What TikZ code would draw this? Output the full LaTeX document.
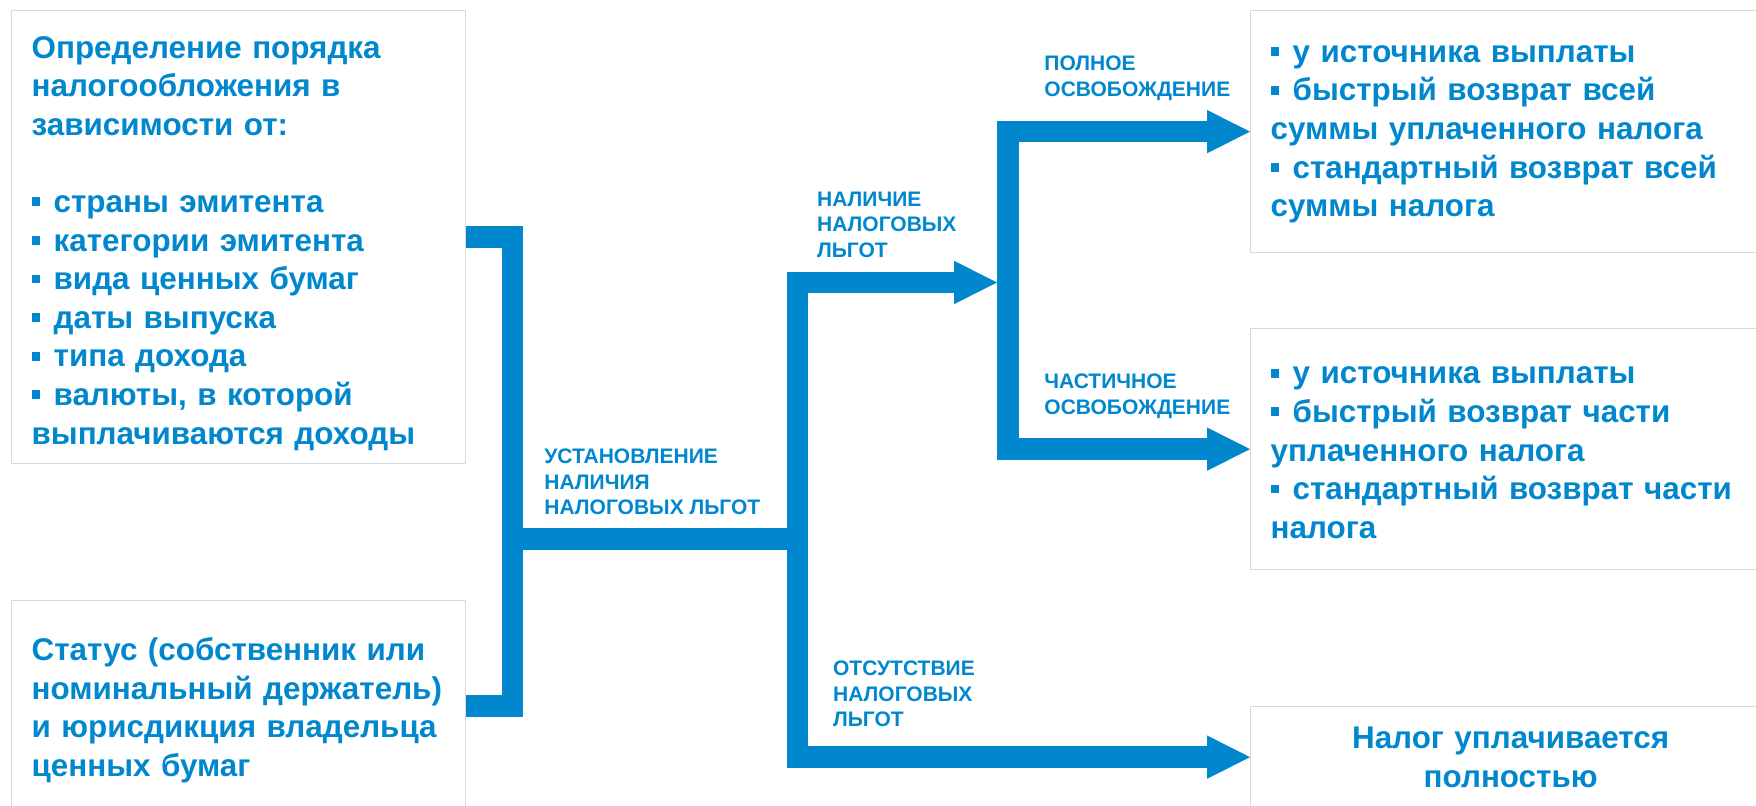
\documentclass[tikz,border=0pt]{standalone}
\usepackage{fontspec}
\setmainfont{Liberation Sans}
\usetikzlibrary{arrows.meta}

\definecolor{taxblue}{HTML}{0087CD}
\definecolor{boxgray}{HTML}{D9D9D9}
\newcommand{\sqb}{\rule[0.2em]{0.28em}{0.28em}\hspace{0.42em}}
\newcommand{\firststrut}[1][15.5pt]{\rule{0pt}{#1}}
\newcommand{\laststrut}{\rule[-4.5pt]{0pt}{4.5pt}}

\begin{document}
\begin{tikzpicture}[x=0.5pt, y=-0.5pt,
    infobox/.style={draw=boxgray, line width=0.65pt, anchor=north west,
      inner sep=0pt, text=taxblue, align=left,
      font=\bfseries\fontsize{15.7}{19.3}\selectfont},
    tag/.style={anchor=north west, inner sep=0pt, align=left, text=taxblue,
      font=\bfseries\fontsize{10.5}{12.75}\selectfont},
    trunk/.style={draw=taxblue, line width=10.85pt},
    flow/.style={-{Triangle[length=21.5pt, width=21.7pt, line width=0pt]}}]
  \fill[white] (0,0) rectangle (1756,806);
  \useasboundingbox (0,0) rectangle (1756,806);

  % left boxes
  \node[infobox, minimum width=227pt, minimum height=226.5pt, text width=207pt]
    (issuer) at (11,10) {\firststrut[18.5pt]Определение порядка\\налогообложения в\\зависимости от:\\[19.3pt]
      \sqb страны эмитента\\\sqb категории эмитента\\\sqb вида ценных бумаг\\
      \sqb даты выпуска\\\sqb типа дохода\\\sqb валюты, в которой\\выплачиваются доходы\laststrut};
  \node[infobox, minimum width=227pt, minimum height=105.5pt, text width=207pt]
    (owner) at (11,600) {\firststrut[16.9pt]Статус (собственник или\\номинальный держатель)\\
      и юрисдикция владельца\\ценных бумаг\laststrut};

  % right boxes
  \node[infobox, minimum width=260pt, minimum height=121pt, text width=240pt]
    (full) at (1250,10) {\firststrut[12.4pt]\sqb у источника выплаты\\\sqb быстрый возврат всей\\
      суммы уплаченного налога\\\sqb стандартный возврат всей\\суммы налога\laststrut};
  \node[infobox, minimum width=260pt, minimum height=120.5pt, text width=240pt]
    (part) at (1250,328) {\firststrut[16.5pt]\sqb у источника выплаты\\\sqb быстрый возврат части\\
      уплаченного налога\\\sqb стандартный возврат части\\налога\laststrut};
  \node[infobox, minimum width=260pt, minimum height=50.5pt, text width=240pt, align=center]
    (paid) at (1250,706) {\firststrut Налог уплачивается\\полностью\laststrut};

  % connectors
  \coordinate (fork) at (512.5,539);
  \coordinate (split) at (797.5,539);
  \coordinate (grant) at (997,282.5);
  \coordinate (exempt) at (1008,282.5);
  \draw[trunk] (issuer.east) -| (fork) |- (owner.east);
  \draw[trunk] (fork) -- (split);
  \draw[trunk, flow] (split) |- (grant);
  \draw[trunk, flow] (split) |- (paid.west);
  \draw[trunk, flow] (exempt) |- (full.west);
  \draw[trunk, flow] (exempt) |- (part.west);

  % labels
  \node[tag] (setup) at (544,448.7) {УСТАНОВЛЕНИЕ\\НАЛИЧИЯ\\НАЛОГОВЫХ ЛЬГОТ};
  \node[tag] (have) at (816.7,191.4) {НАЛИЧИЕ\\НАЛОГОВЫХ\\ЛЬГОТ};
  \node[tag] (fulltag) at (1044,55.7) {ПОЛНОЕ\\ОСВОБОЖДЕНИЕ};
  \node[tag] (parttag) at (1044,373.7) {ЧАСТИЧНОЕ\\ОСВОБОЖДЕНИЕ};
  \node[tag] (none) at (832.7,660.7) {ОТСУТСТВИЕ\\НАЛОГОВЫХ\\ЛЬГОТ};
\end{tikzpicture}
\end{document}
